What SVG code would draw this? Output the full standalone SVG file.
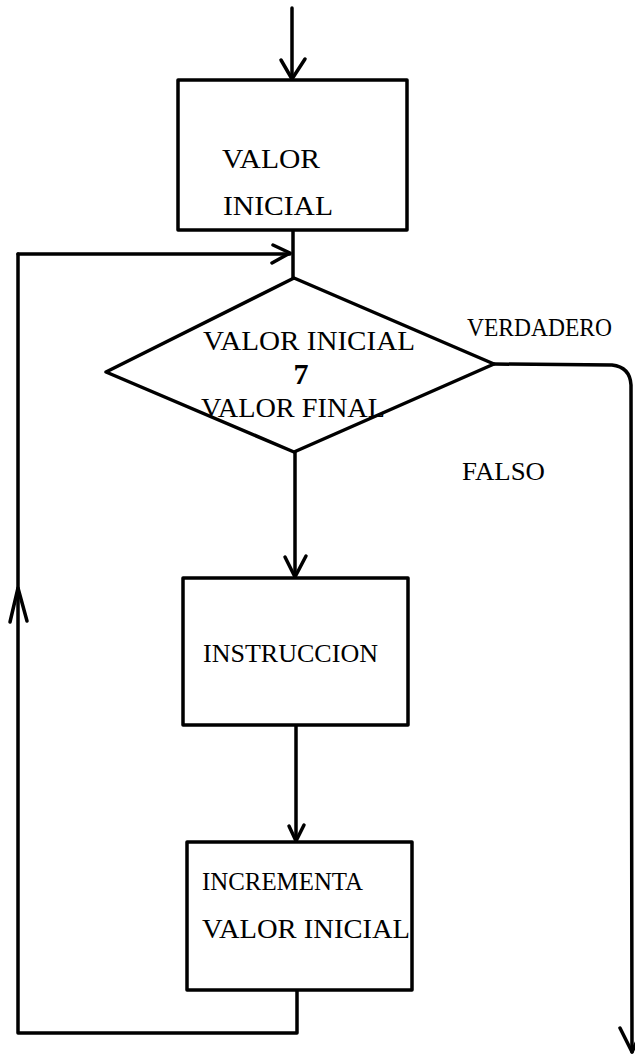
<svg xmlns="http://www.w3.org/2000/svg" width="635" height="1055" viewBox="0 0 635 1055">
<style>
.shape{fill:#fff;stroke:#000;stroke-width:3.5;stroke-linejoin:round}
.line{fill:none;stroke:#000;stroke-width:3.5;stroke-linecap:round;stroke-linejoin:round}
.head{fill:none;stroke:#000;stroke-width:3.5;stroke-linecap:round;stroke-linejoin:round}
text{font-family:"Liberation Serif","Times New Roman",serif;fill:#000}
</style>
<rect width="635" height="1055" fill="#fff"/>
<g id="connectors">
  <path class="line" d="M292,8 L292,80"/>
  <path class="head" d="M281,60 L292,79 L305,59"/>
  <path class="line" d="M293,230 L293,278"/>
  <path class="line" d="M18,254 L290,254"/>
  <path class="head" d="M273,245 L290,253 L272,263"/>
  <path class="line" d="M295,452 L295,578"/>
  <path class="head" d="M285,557 L295,577 L306,556"/>
  <path class="line" d="M296,725 L296,842"/>
  <path class="head" d="M289,826 L296,841 L304,825"/>
  <path class="line" d="M297,990 L297,1033 L18,1033 L18,254"/>
  <path class="head" d="M10,622 L18,588 L27,621"/>
  <path class="line" d="M494,364 L612,365 Q630,367 631,385 L632,1052"/>
  <path class="head" d="M620,1028 L632,1052 L642,1030"/>
</g>
<g id="valor-inicial">
  <rect class="shape" x="178" y="80" width="229" height="150"/>
  <text x="222" y="168" font-size="28" textLength="98" lengthAdjust="spacingAndGlyphs">VALOR</text>
  <text x="223" y="215" font-size="28" textLength="110" lengthAdjust="spacingAndGlyphs">INICIAL</text>
</g>
<g id="decision">
  <polygon class="shape" points="294,278 494,364 294,452 106,372"/>
  <text x="203" y="350" font-size="28" textLength="212" lengthAdjust="spacingAndGlyphs">VALOR INICIAL</text>
  <text x="301" y="384" font-size="30" font-weight="bold" text-anchor="middle">7</text>
  <text x="201" y="417" font-size="28" textLength="184" lengthAdjust="spacingAndGlyphs">VALOR FINAL</text>
</g>
<g id="label-verdadero">
  <text x="467" y="336" font-size="25" textLength="145" lengthAdjust="spacingAndGlyphs">VERDADERO</text>
</g>
<g id="label-falso">
  <text x="462" y="480" font-size="26" textLength="83" lengthAdjust="spacingAndGlyphs">FALSO</text>
</g>
<g id="instruccion">
  <rect class="shape" x="183" y="578" width="225" height="147"/>
  <text x="203" y="662" font-size="26" textLength="175" lengthAdjust="spacingAndGlyphs">INSTRUCCION</text>
</g>
<g id="incrementa">
  <rect class="shape" x="187" y="842" width="225" height="148"/>
  <text x="202" y="890" font-size="26" textLength="161" lengthAdjust="spacingAndGlyphs">INCREMENTA</text>
  <text x="202" y="938" font-size="28" textLength="208" lengthAdjust="spacingAndGlyphs">VALOR INICIAL</text>
</g>
</svg>
